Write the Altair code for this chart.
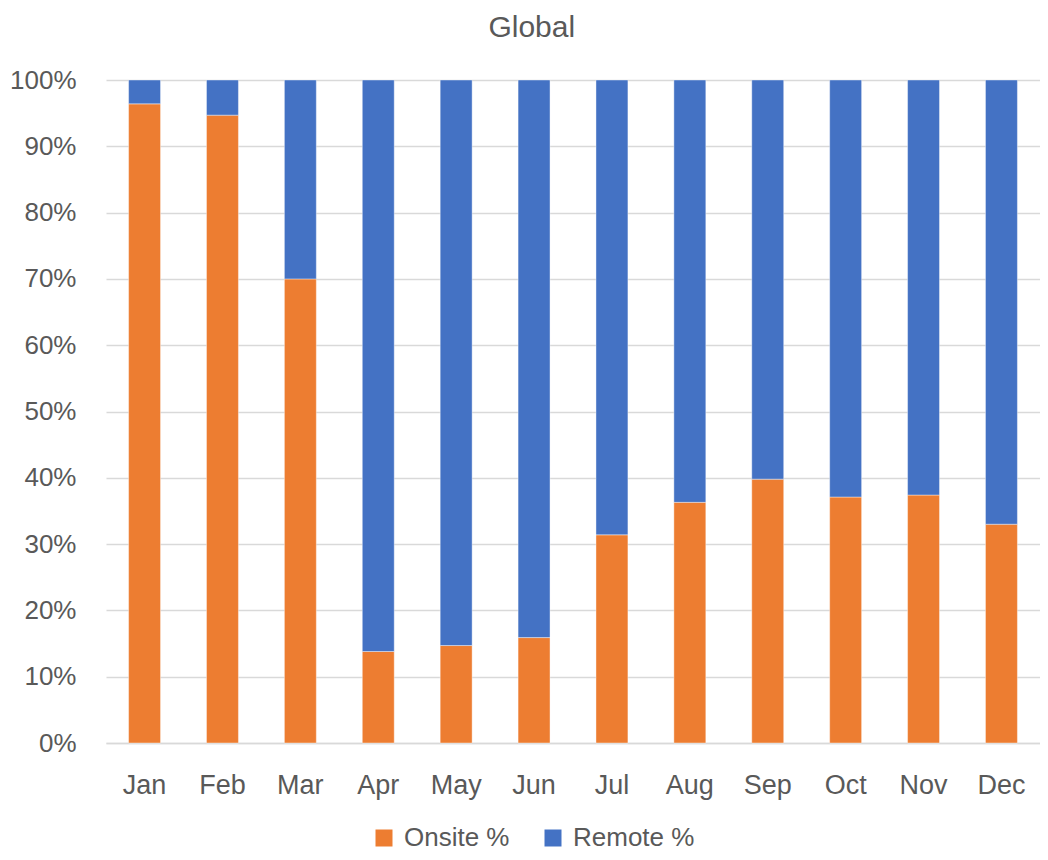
import altair as alt
import pandas as pd

months = ["Jan", "Feb", "Mar", "Apr", "May", "Jun", "Jul", "Aug", "Sep", "Oct", "Nov", "Dec"]
onsite_pct = [96.4, 94.7, 70.0, 13.8, 14.7, 15.9, 31.4, 36.3, 39.8, 37.1, 37.4, 33.0]
remote_pct = [round(100 - v, 1) for v in onsite_pct]
series = ["Onsite %", "Remote %"]
colors = ["#ED7D31", "#4472C4"]

rows = []
for m, o, r in zip(months, onsite_pct, remote_pct):
    rows.append({"month": m, "series": series[0], "value": o / 100, "order": 0})
    rows.append({"month": m, "series": series[1], "value": r / 100, "order": 1})
df = pd.DataFrame(rows)

FONT = "Liberation Sans"
GREY = "#595959"

chart = alt.Chart(df).mark_bar(stroke="#ffffff", strokeWidth=0.8, strokeOpacity=0.5).encode(
    x=alt.X("month:N", sort=months, title=None,
            scale=alt.Scale(paddingInner=0.59, paddingOuter=0.29),
            axis=alt.Axis(labelAngle=0, labelFontSize=27, labelColor=GREY, labelFont=FONT,
                          ticks=False, domainColor="#D9D9D9", domainWidth=1.5, labelPadding=29)),
    y=alt.Y("value:Q", stack="zero", title=None,
            scale=alt.Scale(domain=[0, 1], nice=False),
            axis=alt.Axis(format=".0%", values=[i / 10 for i in range(11)], labelFontSize=26,
                          labelColor=GREY, labelFont=FONT, ticks=False, domain=False,
                          gridColor="#D9D9D9", gridWidth=1.5, labelPadding=30)),
    color=alt.Color("series:N", sort=series,
                    scale=alt.Scale(domain=series, range=colors),
                    legend=alt.Legend(title=None, orient="none", direction="horizontal",
                                      legendX=265, legendY=745, symbolType="square",
                                      symbolSize=289, symbolStrokeWidth=0, labelFontSize=26,
                                      labelColor=GREY, labelFont=FONT, columnPadding=30,
                                      labelOffset=7)),
    order=alt.Order("order:Q"),
).properties(
    width=934,
    height=663,
    title=alt.TitleParams("Global", fontSize=30, color=GREY, font=FONT, fontWeight="normal",
                          anchor="middle", frame="bounds", offset=24, dx=7),
    padding={"left": 98, "top": 72, "right": 0, "bottom": 109},
    autosize=alt.AutoSizeParams(type="none"),
).configure_view(stroke=None)

chart.save("out.html", embed_options={"renderer": "svg", "actions": False})
